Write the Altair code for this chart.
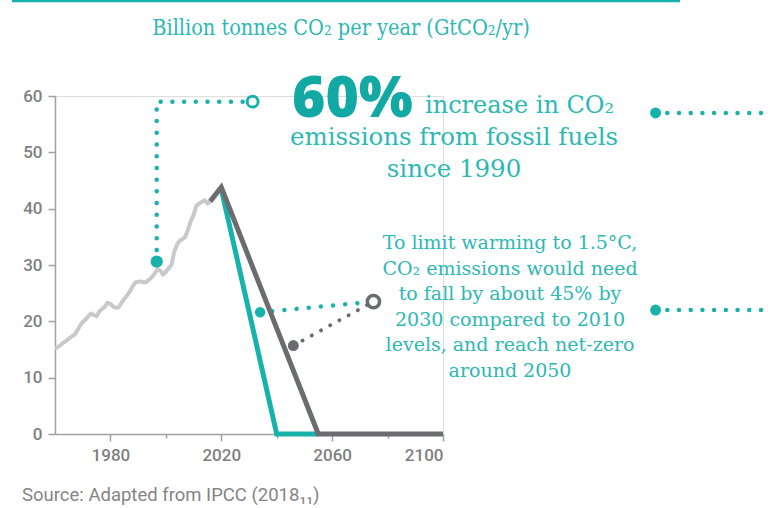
import altair as alt
import pandas as pd

# Historical CO2 emissions, GtCO2 per year
hist_years = list(range(1960, 2017))
hist_values = [
    15.3, 15.4, 15.8, 16.2, 16.5, 16.9, 17.3, 17.6, 18.3, 19.2,
    19.9, 20.3, 20.9, 21.4, 21.1, 20.9, 21.8, 22.2, 22.6, 23.3,
    23.1, 22.6, 22.4, 22.5, 23.3, 24.0, 24.6, 25.3, 26.2, 26.9,
    27.0, 27.1, 26.9, 27.0, 27.4, 27.9, 28.5, 29.2, 29.0, 28.3,
    28.8, 29.4, 30.0, 32.3, 33.6, 34.3, 34.6, 35.0, 36.3, 37.8,
    38.9, 40.5, 40.9, 41.2, 41.5, 40.9, 41.3,
]

# Pathways after the peak
slow_years = [2016, 2020, 2055, 2100]
slow_values = [41.3, 43.8, 0.0, 0.0]
fast_years = [2020, 2040, 2055]
fast_values = [43.5, 0.0, 0.0]

# Axis ticks
x_ticks = [1980, 2000, 2020, 2040, 2060, 2080, 2100]
y_ticks = [0, 10, 20, 30, 40, 50, 60]

# Callout leader lines (in chart units)
lead1_years = [1996.7, 1996.7, 2031.3]
lead1_values = [30.6, 59.0, 59.0]
lead2_years = [2034.0, 2074.9]
lead2_values = [21.6, 23.5]
lead3_years = [2046.0, 2074.9]
lead3_values = [15.7, 23.5]
side_years = [2176.7, 2232.0]
side_values_top = [57.0, 57.0]
side_values_low = [22.0, 22.0]

TEAL = "#17b2ac"
TEAL_TXT = "#2db8b3"
DARK = "#6b6c70"
LIGHT = "#c9c9c9"
AXIS = "#a0a0a0"

W, H = 388, 338
X0, Y0 = 55, 96

xs = alt.Scale(domain=[1960, 2100], nice=False, zero=False)
ys = alt.Scale(domain=[0, 60], nice=False)


def path_df(years, values):
    return pd.DataFrame({"year": years, "value": values, "seq": range(len(years))})


hist = alt.Chart(path_df(hist_years, hist_values)).mark_line(
    color=LIGHT, strokeWidth=4, strokeJoin="round"
).encode(
    x=alt.X("year:Q", scale=xs, axis=alt.Axis(
        values=x_ticks,
        labelExpr="datum.value % 40 == 0 ? '' : datum.label",
        format="d",
        title=None, grid=False,
        domainColor=AXIS, domainWidth=1.5,
        tickColor=AXIS, tickWidth=1.5,
        tickSize=alt.condition("datum.value % 40 == 0", alt.value(4), alt.value(7)),
        labelFont="Roboto", labelFontSize=17, labelFontWeight=500,
        labelColor="#7f7f7f", labelPadding=6,
    )),
    y=alt.Y("value:Q", scale=ys, axis=alt.Axis(
        values=y_ticks, title=None, grid=False,
        domainColor=AXIS, domainWidth=1.5,
        tickColor=AXIS, tickWidth=1.5, tickSize=7,
        labelFont="Roboto", labelFontSize=17, labelFontWeight=500,
        labelColor="#7f7f7f", labelPadding=6,
    )),
    order="seq:Q",
)

fast = alt.Chart(path_df(fast_years, fast_values)).mark_line(
    color=TEAL, strokeWidth=5, strokeJoin="miter"
).encode(x=alt.X("year:Q", scale=xs), y=alt.Y("value:Q", scale=ys), order="seq:Q")

slow = alt.Chart(path_df(slow_years, slow_values)).mark_line(
    color=DARK, strokeWidth=5, strokeJoin="miter"
).encode(x=alt.X("year:Q", scale=xs), y=alt.Y("value:Q", scale=ys), order="seq:Q")


def dotted(years, values, color, width=4.5, gap=11.7):
    return alt.Chart(path_df(years, values)).mark_line(
        color=color, strokeWidth=width, strokeCap="round",
        strokeDash=[0.01, gap], strokeJoin="round",
    ).encode(x=alt.X("year:Q", scale=xs), y=alt.Y("value:Q", scale=ys), order="seq:Q")


def dot(year, value, color, size):
    return alt.Chart(pd.DataFrame({"year": [year], "value": [value]})).mark_circle(
        color=color, size=size, opacity=1
    ).encode(x=alt.X("year:Q", scale=xs), y=alt.Y("value:Q", scale=ys))


def ring(year, value, color, size, width):
    return alt.Chart(pd.DataFrame({"year": [year], "value": [value]})).mark_point(
        shape="circle", filled=True, fill="white", stroke=color,
        strokeWidth=width, size=size, opacity=1,
    ).encode(x=alt.X("year:Q", scale=xs), y=alt.Y("value:Q", scale=ys))


def label(txt, x, y, **kw):
    return alt.Chart(pd.DataFrame({"t": [txt]})).mark_text(**kw).encode(
        x=alt.value(x - X0), y=alt.value(y - Y0), text="t:N"
    )


top_rule = alt.Chart(pd.DataFrame({"a": [0]})).mark_rule(
    color=TEAL, strokeWidth=2.5
).encode(x=alt.value(12 - X0), x2=alt.value(680 - X0), y=alt.value(1 - Y0))

layers = [
    top_rule,
    dotted(lead1_years, lead1_values, TEAL),
    dotted(lead2_years, lead2_values, TEAL, gap=12.2),
    dotted(lead3_years, lead3_values, DARK, width=4, gap=10.5),
    dotted(side_years, side_values_top, TEAL),
    dotted(side_years, side_values_low, TEAL),
    hist, fast, slow,
    dot(lead1_years[0], lead1_values[0], TEAL, 150),
    ring(lead1_years[-1], lead1_values[-1], TEAL, 120, 3),
    dot(lead2_years[0], lead2_values[0], TEAL, 110),
    dot(lead3_years[0], lead3_values[0], DARK, 120),
    ring(lead2_years[-1], lead2_values[-1], DARK, 150, 3.5),
    dot(side_years[0], side_values_top[0], TEAL, 120),
    dot(side_years[0], side_values_low[0], TEAL, 120),
    label("Billion tonnes CO₂ per year (GtCO₂/yr)", 341, 35,
          font="DejaVu Serif Condensed", fontSize=21.5, color=TEAL_TXT,
          align="center", baseline="alphabetic"),
    label("60%", 292, 117, font="Open Sans", fontSize=57, fontWeight=800,
          color="#12a9a4", align="left", baseline="alphabetic"),
    label("increase in CO₂", 425, 113, font="DejaVu Serif", fontSize=24,
          color=TEAL_TXT, align="left", baseline="alphabetic"),
    label("emissions from fossil fuels\nsince 1990", 454, 145,
          font="DejaVu Serif", fontSize=24.5, color=TEAL_TXT, align="center",
          baseline="alphabetic", lineBreak="\n", lineHeight=32),
    label("To limit warming to 1.5°C,\nCO₂ emissions would need\nto fall by about 45% by\n"
          "2030 compared to 2010\nlevels, and reach net-zero\naround 2050",
          510, 249, font="DejaVu Serif", fontSize=19, color=TEAL_TXT,
          align="center", baseline="alphabetic", lineBreak="\n", lineHeight=25.5),
    label("Source: Adapted from IPCC (2018₁₁)", 22, 501, font="Roboto",
          fontSize=18.5, color="#858585", align="left", baseline="alphabetic"),
]

chart = alt.layer(*layers).properties(
    width=W, height=H,
    autosize=alt.AutoSizeParams(type="none"),
    padding={"left": X0, "top": Y0, "right": 768 - X0 - W, "bottom": 508 - Y0 - H},
).configure_view(stroke=None).configure(background="white")

chart.save("out.html", embed_options={"renderer": "svg", "actions": False})
